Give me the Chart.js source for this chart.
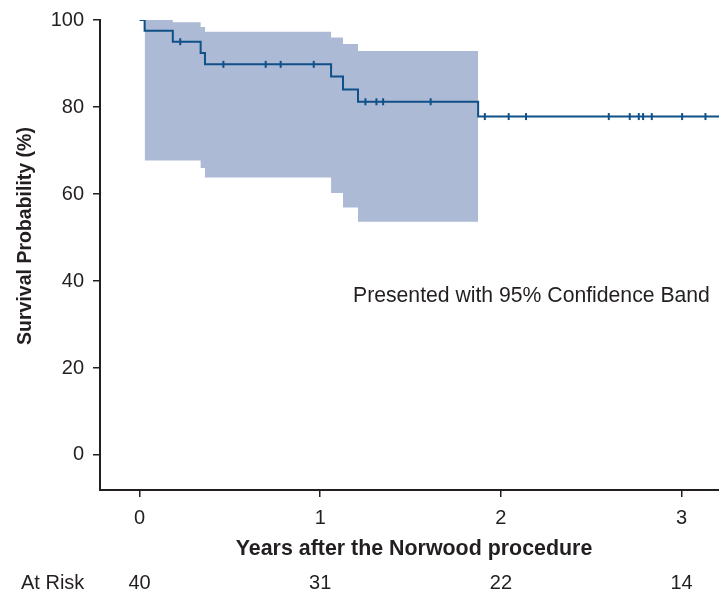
<!DOCTYPE html>
<html><head><meta charset="utf-8">
<script src="https://cdn.jsdelivr.net/npm/chart.js@4/dist/chart.umd.min.js"></script>
<style>html,body{margin:0;padding:0;background:#fff;}canvas{display:block;}</style>
</head><body>
<canvas id="c" width="719" height="596"></canvas>
<script>
// ---- data ----
const stepTimes   = [0, 0.028, 0.184, 0.338, 0.362, 1.060, 1.126, 1.209, 1.874];
const survival    = [100, 97.5, 95.0, 92.4, 89.8, 87.0, 84.0, 81.2, 77.8];
const curveEnd    = 3.21;
const bandTimes   = [0.028, 0.184, 0.338, 0.362, 1.060, 1.126, 1.209, 1.874];
const bandUpper   = [100, 99.5, 98.4, 97.3, 96.0, 94.5, 92.9, 92.9];
const bandLower   = [67.7, 67.7, 66.0, 63.8, 60.2, 56.9, 53.6, 53.6];
const censorTimes = [0.225, 0.464, 0.698, 0.781, 0.964, 1.250, 1.311, 1.348, 1.611,
                     1.911, 2.043, 2.139, 2.597, 2.713, 2.763, 2.787, 2.835, 3.003, 3.132];
const xTicks      = [0, 1, 2, 3];
const yTicks      = [0, 20, 40, 60, 80, 100];
const atRiskLabel = 'At Risk';
const atRisk      = [40, 31, 22, 14];
const xTitle      = 'Years after the Norwood procedure';
const yTitle      = 'Survival Probability (%)';
const note        = 'Presented with 95% Confidence Band';

// ---- build library data ----
function survAt(t){ let s = survival[0]; for (let i=0;i<stepTimes.length;i++){ if (stepTimes[i] <= t) s = survival[i]; } return s; }
const kmData = stepTimes.map((t,i)=>({x:t, y:survival[i]}));
kmData.push({x:curveEnd, y:survival[survival.length-1]});
const censorData = censorTimes.map(t=>({x:t, y:survAt(t)}));
const upperData = bandTimes.map((t,i)=>({x:t, y:bandUpper[i]}));
const lowerData = bandTimes.map((t,i)=>({x:t, y:bandLower[i]}));

const FONT = "'Liberation Sans', Arial, Helvetica, sans-serif";
const INK = '#231f20';
const LINE = '#0e5087';
const BAND = '#adbad6';

const textPlugin = {
  id: 'texts',
  afterDraw(chart){
    const ctx = chart.ctx, xs = chart.scales.x;
    ctx.save();
    ctx.fillStyle = INK;
    // x title
    ctx.font = 'bold 21.4px ' + FONT;
    ctx.textAlign = 'center'; ctx.textBaseline = 'middle';
    ctx.fillText(xTitle, 414, 549);
    // at risk row
    ctx.font = '20px ' + FONT;
    ctx.textAlign = 'left';
    ctx.fillText(atRiskLabel, 21, 583);
    ctx.textAlign = 'center';
    atRisk.forEach((n,i)=>ctx.fillText(String(n), xs.getPixelForValue(xTicks[i]), 583));
    // annotation
    ctx.textAlign = 'left';
    ctx.font = '21.2px ' + FONT;
    ctx.fillText(note, 353, 296);
    // y title
    ctx.translate(26, 236);
    ctx.rotate(-Math.PI/2);
    ctx.font = 'bold 19.5px ' + FONT;
    ctx.textAlign = 'center';
    ctx.fillText(yTitle, 0, 0);
    ctx.restore();
  }
};

const chart = new Chart(document.getElementById('c'), {
  type: 'line',
  data: {
    datasets: [
      { data: kmData, stepped: true, borderColor: LINE, borderWidth: 2, pointRadius: 0, fill: false, order: 0 },
      { data: censorData, showLine: false, pointStyle: 'line', pointRotation: 90, pointRadius: 3.5,
        borderColor: LINE, backgroundColor: LINE, pointBorderWidth: 2, borderWidth: 2, order: 0 },
      { data: upperData, stepped: true, borderWidth: 0, borderColor: 'rgba(0,0,0,0)', pointRadius: 0,
        backgroundColor: BAND, fill: '+1', order: 2 },
      { data: lowerData, stepped: true, borderWidth: 0, borderColor: 'rgba(0,0,0,0)', pointRadius: 0,
        fill: false, order: 2 }
    ]
  },
  options: {
    responsive: false,
    animation: false,
    devicePixelRatio: 1,
    layout: { padding: { top: 20, left: 0, right: 0, bottom: 0 } },
    plugins: { legend: { display: false }, tooltip: { enabled: false } },
    scales: {
      x: {
        type: 'linear', min: -0.219, max: 3.207,
        afterBuildTicks: s => { s.ticks = xTicks.map(v=>({value:v})); },
        afterFit: s => { s.height = 106; s.paddingLeft = 0; s.paddingRight = 0; },
        grid: { drawOnChartArea: false, drawTicks: true, tickLength: 7, color: INK, lineWidth: 1.5 },
        border: { display: true, color: INK, width: 2 },
        ticks: { font: { size: 20, family: FONT }, color: INK, padding: 9, maxRotation: 0, autoSkip: false }
      },
      y: {
        type: 'linear', min: -8.05, max: 100,
        afterBuildTicks: s => { s.ticks = yTicks.map(v=>({value:v})); },
        afterFit: s => { s.width = 100; s.paddingTop = 0; s.paddingBottom = 0; },
        grid: { drawOnChartArea: false, drawTicks: true, tickLength: 7, color: INK, lineWidth: 1.5 },
        border: { display: true, color: INK, width: 2 },
        ticks: { font: { size: 20, family: FONT }, color: INK, padding: 9 }
      }
    }
  },
  plugins: [textPlugin]
});
// the plot runs to the canvas edge: no overflow margin for end markers
chart.data.datasets.forEach((d, i) => { chart.getDatasetMeta(i).controller.getMaxOverflow = () => 0; });
chart.update();
</script>
</body></html>
